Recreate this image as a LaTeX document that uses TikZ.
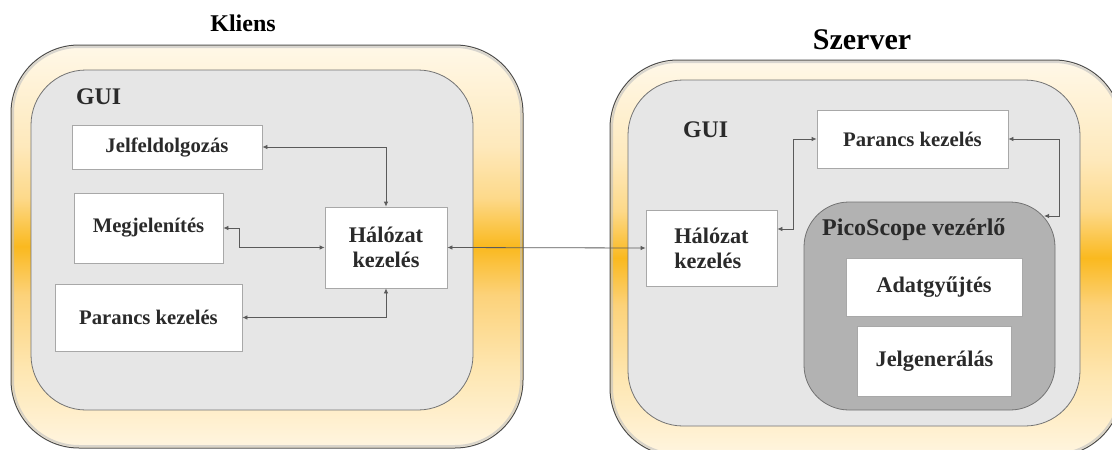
\documentclass[tikz,border=0pt]{standalone}
\usepackage{fontspec}
\setmainfont{Liberation Serif}
\usetikzlibrary{arrows.meta}

\definecolor{guigray}{HTML}{E6E6E6}
\definecolor{picogray}{HTML}{B2B2B2}
\definecolor{boxline}{HTML}{A8A8A8}
\definecolor{linkgray}{HTML}{5A5A5A}
\definecolor{txt}{HTML}{2A2A2A}
\definecolor{glowtop}{HTML}{FFF8E8}
\definecolor{glowup}{HTML}{FEE9BC}
\definecolor{glowhi}{HTML}{FDD98A}
\definecolor{gloworange}{HTML}{FAB91F}
\definecolor{glowdown}{HTML}{FCD27A}
\definecolor{glowmid}{HTML}{FEE6B0}
\definecolor{glowlow}{HTML}{FFF5E0}

% orange band through the middle of the frames
\pgfdeclareverticalshading{glow}{100bp}{%
  color(0bp)=(glowlow); color(25bp)=(glowlow); color(35bp)=(glowmid);
  color(44bp)=(glowdown); color(50bp)=(gloworange); color(56bp)=(glowhi);
  color(62.5bp)=(glowup); color(75bp)=(glowtop); color(100bp)=(glowtop)}

\tikzset{
  frame/.style={shade, shading=glow, draw=black!70, line width=1pt, rounded corners=68},
  bevel/.style={black!25, line width=2pt, rounded corners=66, opacity=0.6},
  gui/.style={fill=guigray, draw=black!55, line width=0.8pt, rounded corners=55},
  box/.style={draw=boxline, fill=white, line width=0.8pt, inner sep=0pt,
    text=txt, font=\fontsize{20.7}{25}\selectfont\bfseries},
  bigbox/.style={box, font=\fontsize{22.3}{25}\selectfont\bfseries},
  title/.style={inner sep=0pt, font=\bfseries},
  link/.style={draw=linkgray, line width=0.8pt,
    {Latex[length=5pt,width=4.5pt]}-{Latex[length=5pt,width=4.5pt]}}
}

\begin{document}
\begin{tikzpicture}[x=1pt,y=-1pt]
  \clip (0,0) rectangle (1112,450);

  % frames
  \draw[frame] (11,45) rectangle (523,448);
  \draw[frame] (610,60) rectangle (1122,456);
  \draw[bevel] (13,47) rectangle (521,446);
  \draw[bevel] (612,62) rectangle (1120,454);
  \draw[gui] (31,70) rectangle (473,410);
  \draw[gui] (628,80) rectangle (1080,426);

  \node[title, font=\fontsize{24}{28}\selectfont\bfseries] (kliens) at (243,23) {Kliens};
  \node[title, font=\fontsize{30}{34}\selectfont\bfseries] (szerver) at (862,40) {Szerver};
  \node[title, anchor=west, text=txt, font=\fontsize{23.8}{28}\selectfont\bfseries] (guiL) at (76,97) {GUI};
  \node[title, anchor=west, text=txt, font=\fontsize{23.8}{28}\selectfont\bfseries] (guiR) at (683,130) {GUI};

  % client side
  \node[box, minimum width=190, minimum height=44] (jelf) at (167,147) {Jelfeldolgozás};
  \node[box, minimum width=149, minimum height=70] (megj) at (148.5,228) {Megjelenítés};
  \node[box, minimum width=187, minimum height=67] (parL) at (148.5,317.5) {Parancs kezelés};
  \node[bigbox, minimum width=122, minimum height=81, align=center] (halL) at (386,247.5) {Hálózat\\kezelés};

  % server side
  \node[bigbox, minimum width=131, minimum height=76, align=left] (halR) at (711.5,248) {Hálózat\\kezelés};
  \node[box, minimum width=191, minimum height=58] (parR) at (912.5,139) {Parancs kezelés};
  \node[draw=black!55, fill=picogray, line width=0.8pt, rounded corners=45,
    minimum width=251, minimum height=208] (pico) at (929.5,306) {};
  \node[title, anchor=west, text=txt, font=\fontsize{24}{28}\selectfont\bfseries] (picoL) at (822,230) {PicoScope vezérlő};
  \node[bigbox, minimum width=176, minimum height=58] (adat) at (934,287) {Adatgyűjtés};
  \node[bigbox, minimum width=154, minimum height=70] (jelg) at (934.5,361) {Jelgenerálás};
  \coordinate (picoIn) at (1044,216);

  % connections
  \draw[link] (jelf.east) -| (halL.north);
  \draw[link] (megj.east) -- ++(16,0) |- (halL.west);
  \draw[link] (parL.east) -| (halL.south);
  \draw[link] (halL.east) -- (halR.west);
  \draw[link] ([yshift=19pt]halR.east) -- ++(16,0) |- (parR.west);
  \draw[link] (parR.east) -- ++(51,0) |- (picoIn);
\end{tikzpicture}
\end{document}
